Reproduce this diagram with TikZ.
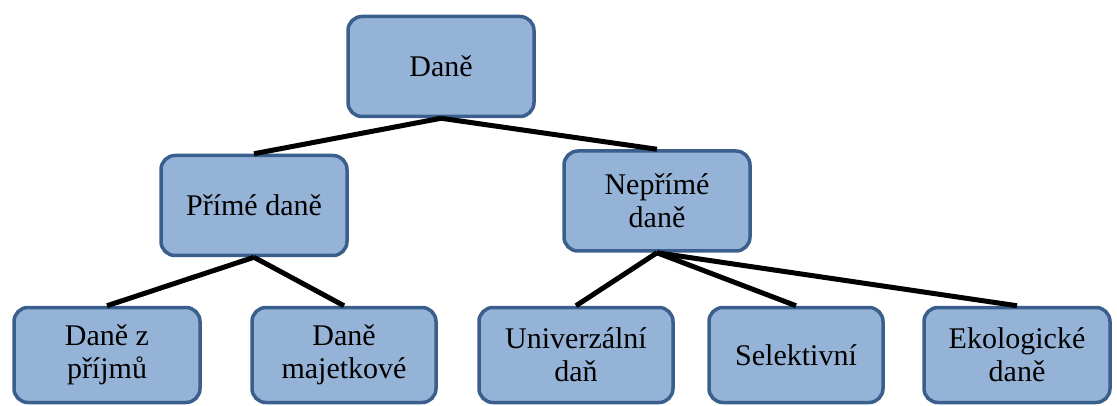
\documentclass[tikz,border=0pt]{standalone}
\usepackage{fontspec}
\setmainfont{Liberation Serif}
\definecolor{boxfill}{HTML}{95B3D7}
\definecolor{boxline}{HTML}{3A5F8C}
\tikzset{
  taxbox/.style={
    draw=boxline,
    line width=3.5pt,
    rounded corners=14pt,
    fill=boxfill,
    minimum width=186pt,
    minimum height=100pt,
    align=center,
    inner sep=2pt,
    font=\fontsize{30}{33}\selectfont
  },
  link/.style={line width=5pt, black}
}
\newcommand{\linkto}[2]{\draw[link] (#1.south) -- (#2.north);}

\begin{document}
\begin{tikzpicture}[x=1pt, y=-1pt]
  \useasboundingbox (0,0) rectangle (1117,406);
  \node[taxbox] (dane) at (441,66.5) {Daně};
  \node[taxbox] (prime) at (254,205.5) {Přímé daně};
  \node[taxbox] (neprime) at (657,201) {Nepřímé\\daně};
  \node[taxbox, minimum height=95pt] (prijmy) at (107,355) {Daně z\\příjmů};
  \node[taxbox, minimum height=95pt, minimum width=184pt] (majetek) at (344,355) {Daně\\majetkové};
  \node[taxbox, minimum height=95pt, minimum width=194pt] (univ) at (576,355) {Univerzální\\daň};
  \node[taxbox, minimum height=95pt, minimum width=174pt] (selekt) at (796,355) {Selektivní};
  \node[taxbox, minimum height=95pt] (eko) at (1017,355) {Ekologické\\daně};
  \linkto{dane}{prime}
  \linkto{dane}{neprime}
  \linkto{prime}{prijmy}
  \linkto{prime}{majetek}
  \linkto{neprime}{univ}
  \linkto{neprime}{selekt}
  \linkto{neprime}{eko}
\end{tikzpicture}
\end{document}
